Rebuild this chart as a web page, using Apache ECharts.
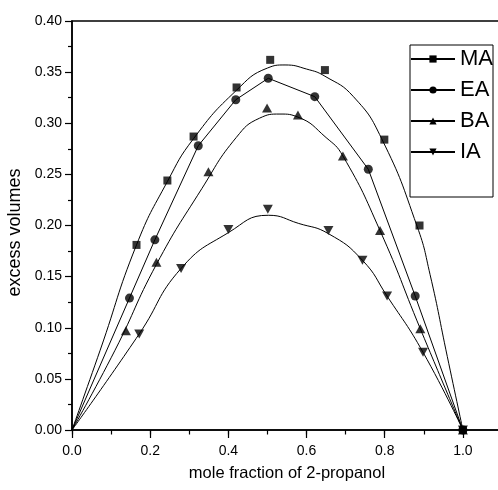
<!DOCTYPE html>
<html>
<head>
<meta charset="utf-8">
<title>excess volumes</title>
<script src="https://cdn.jsdelivr.net/npm/echarts@6/dist/echarts.min.js"></script>
<style>
  html, body { margin: 0; padding: 0; background: #fff; }
  #main { width: 498px; height: 490px; }
</style>
</head>
<body>
<div id="main"></div>
<script type="text/javascript">
// measured points [mole fraction, excess volume]
var maPoints = [[0.165,0.181],[0.244,0.244],[0.311,0.287],[0.421,0.335],[0.507,0.362],[0.647,0.352],[0.799,0.284],[0.889,0.200],[1.0,0]];
var eaPoints = [[0,0],[0.147,0.129],[0.212,0.186],[0.323,0.278],[0.419,0.323],[0.502,0.344],[0.621,0.326],[0.758,0.255],[0.878,0.131],[1.0,0]];
var baPoints = [[0.138,0.097],[0.216,0.164],[0.349,0.2525],[0.499,0.315],[0.578,0.308],[0.693,0.268],[0.788,0.195],[0.891,0.099],[1.0,0]];
var iaPoints = [[0.172,0.094],[0.279,0.158],[0.400,0.196],[0.501,0.216],[0.656,0.195],[0.743,0.166],[0.806,0.131],[0.898,0.076],[1.0,0]];

// fitted curves
var maCurve = [[0,0],[0.072,0.078],[0.165,0.181],[0.244,0.243],[0.311,0.285],[0.42,0.332],[0.5,0.354],[0.545,0.357],[0.6,0.353],[0.647,0.346],[0.72,0.326],[0.792,0.285],[0.883,0.199],[0.916,0.152],[0.96,0.072],[1.0,0]];
var baCurve = [[0,0],[0.11,0.078],[0.216,0.162],[0.332,0.236],[0.42,0.286],[0.48,0.305],[0.532,0.309],[0.578,0.306],[0.65,0.286],[0.693,0.268],[0.788,0.195],[0.891,0.099],[1.0,0]];
var iaCurve = [[0,0],[0.172,0.094],[0.279,0.158],[0.40,0.193],[0.502,0.210],[0.58,0.202],[0.656,0.192],[0.743,0.166],[0.806,0.131],[0.898,0.076],[1.0,0]];

var seriesNames = ['MA', 'EA', 'BA', 'IA'];

var myChart = echarts.init(document.getElementById('main'), null, {renderer: 'canvas'});

var font = 'Liberation Sans, Arial, sans-serif';

function curve(name, data, symbol, rotate) {
    return {
        name: name,
        type: 'line',
        data: data,
        smooth: 0.5,
        showSymbol: false,
        symbol: symbol,
        symbolRotate: rotate || 0,
        lineStyle: {color: '#000', width: 1},
        itemStyle: {color: '#000'},
        z: 2
    };
}

function dots(name, data, symbol, size, rotate) {
    return {
        name: name,
        type: 'scatter',
        data: data,
        symbol: symbol,
        symbolSize: size,
        symbolRotate: rotate || 0,
        itemStyle: {color: '#000'},
        z: 3
    };
}

var option = {
    animation: false,
    backgroundColor: '#fff',
    grid: {
        left: 72, top: 21, width: 430, height: 409,
        outerBoundsMode: 'none', containLabel: false,
        show: true, borderColor: '#000', borderWidth: 1.5, backgroundColor: 'transparent'
    },
    legend: {
        data: seriesNames,
        orient: 'vertical',
        left: 410, top: 45,
        padding: [3, 0, 34, 0],
        itemWidth: 44, itemHeight: 9, itemGap: 9,
        borderColor: '#000', borderWidth: 1,
        selectedMode: false,
        textStyle: {fontFamily: font, fontSize: 22, lineHeight: 22, color: '#000'}
    },
    xAxis: [{
        type: 'value', min: 0, max: 1.1, interval: 0.2,
        name: 'mole fraction of 2-propanol', nameLocation: 'middle', nameGap: 35,
        nameTextStyle: {fontFamily: font, fontSize: 16.5, color: '#000'},
        axisLine: {lineStyle: {color: '#000', width: 1.5}},
        axisTick: {show: true, inside: false, length: 8, lineStyle: {color: '#000', width: 1.2}},
        axisLabel: {
            margin: 14, color: '#000', fontFamily: font, fontSize: 14,
            formatter: function (v) { return v > 1.05 ? '' : v.toFixed(1); }
        },
        splitLine: {show: false}
    }, {
        type: 'value', min: 0, max: 1.1, interval: 0.1, position: 'bottom',
        axisLine: {show: false},
        axisTick: {show: true, inside: false, length: 4.5, lineStyle: {color: '#000', width: 1.2}},
        axisLabel: {show: false},
        splitLine: {show: false}
    }],
    yAxis: {
        type: 'value', min: 0, max: 0.4, interval: 0.05,
        name: 'excess volumes', nameLocation: 'middle', nameGap: 47, nameRotate: 90,
        nameTextStyle: {fontFamily: font, fontSize: 18, color: '#000', padding: [0, 14, 0, 0]},
        axisLine: {show: true, lineStyle: {color: '#000', width: 1.5}},
        axisTick: {show: true, inside: false, length: 7, lineStyle: {color: '#000', width: 1.2}},
        minorTick: {show: true, splitNumber: 2, length: 4, lineStyle: {color: '#000', width: 1.2}},
        axisLabel: {
            margin: 10, color: '#000', fontFamily: font, fontSize: 14,
            formatter: function (v) { return v.toFixed(2); }
        },
        splitLine: {show: false},
        minorSplitLine: {show: false}
    },
    series: [
        curve('MA', maCurve, 'rect'),
        {
            name: 'EA', type: 'line', data: eaPoints, showSymbol: false, symbol: 'circle',
            lineStyle: {color: '#000', width: 1}, itemStyle: {color: '#000'}, z: 2
        },
        curve('BA', baCurve, 'triangle'),
        curve('IA', iaCurve, 'triangle', 180),
        dots('MA points', maPoints, 'rect', 8),
        dots('EA points', eaPoints.slice(1), 'circle', 9),
        dots('BA points', baPoints, 'triangle', [10, 9]),
        dots('IA points', iaPoints, 'triangle', [10, 9], 180)
    ]
};

myChart.setOption(option);
</script>
</body>
</html>
